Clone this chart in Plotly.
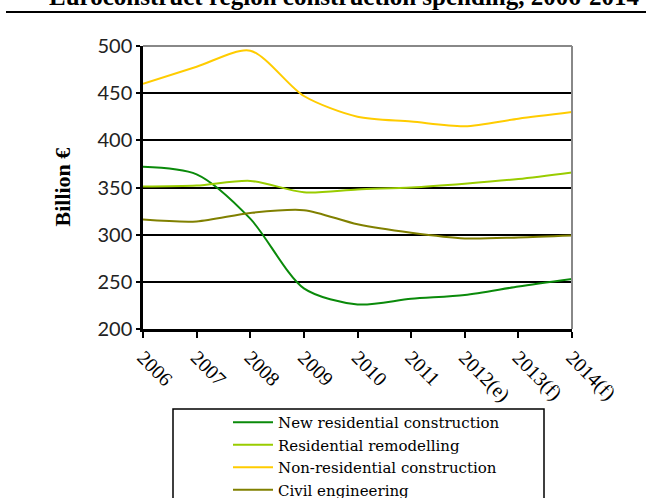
import plotly.graph_objects as go

years = ["2006", "2007", "2008", "2009", "2010", "2011", "2012(e)", "2013(f)", "2014(f)"]
new_residential = [372, 364, 317, 243, 226, 232, 236, 245, 253]
residential_remodelling = [351, 352, 357, 345, 348, 350, 354, 359, 366]
non_residential = [460, 478, 495, 447, 425, 420, 415, 423, 430]
civil_engineering = [316, 314, 323, 326, 311, 302, 296, 297, 299]

series = [
    ("New residential construction", new_residential, "#0a8a0a"),
    ("Residential remodelling", residential_remodelling, "#99cc00"),
    ("Non-residential construction", non_residential, "#ffcc00"),
    ("Civil engineering", civil_engineering, "#808000"),
]

fig = go.Figure()
for name, vals, col in series:
    fig.add_trace(go.Scatter(
        x=years, y=vals, name=name, mode="lines",
        line=dict(color=col, width=2, shape="spline", smoothing=0.8),
    ))

W, H = 646, 498
L, R, T, B = 143, 572, 46, 329
pw, ph = R - L, B - T

def px(x):
    return (x - L) / pw

def py(y):
    return (B - y) / ph

fig.update_layout(
    width=W, height=H,
    margin=dict(l=L, r=W - R, t=T, b=H - B, autoexpand=False),
    paper_bgcolor="white", plot_bgcolor="white",
    showlegend=True,
    legend=dict(
        x=px(228), y=py(406), xanchor="left", yanchor="top",
        bgcolor="rgba(0,0,0,0)", borderwidth=0,
        font=dict(family="DejaVu Serif", size=15, color="black"),
        tracegroupgap=0, itemwidth=40,
    ),
)

fig.update_xaxes(
    type="category", range=[0, 8], automargin=False,
    showline=True, linecolor="black", linewidth=3,
    ticks="outside", ticklen=6, tickwidth=2, tickcolor="black",
    tickangle=45,
    tickfont=dict(family="Liberation Serif", size=20, color="black"),
    showgrid=False, zeroline=False,
)
fig.update_yaxes(
    range=[200, 500], dtick=50, automargin=False,
    showline=True, linecolor="black", linewidth=2.5,
    ticks="outside", ticklen=4, tickwidth=1.5, tickcolor="black",
    tickfont=dict(family="Lato", size=20, color="#222222"),
    showgrid=True, gridcolor="black", gridwidth=1.5,
    zeroline=False,
)

shapes = [
    dict(type="line", xref="paper", yref="paper", x0=px(6), x1=px(646), y0=py(12), y1=py(12),
         line=dict(color="black", width=2)),
    dict(type="line", xref="paper", yref="paper", x0=0, x1=1, y0=1, y1=1,
         line=dict(color="#888888", width=2), layer="above"),
    dict(type="line", xref="paper", yref="paper", x0=1, x1=1, y0=0, y1=1,
         line=dict(color="#888888", width=2), layer="above"),
    dict(type="rect", xref="paper", yref="paper", x0=px(173), x1=px(544), y0=py(520), y1=py(409),
         line=dict(color="black", width=1.5)),
]
fig.update_layout(shapes=shapes)

fig.add_annotation(
    text="<b>Euroconstruct region construction spending, 2006-2014</b>",
    xref="paper", yref="paper", x=px(344), y=py(-4),
    xanchor="center", yanchor="middle", showarrow=False,
    font=dict(family="Liberation Serif", size=25, color="black"),
)

fig.add_annotation(
    text="<b>Billion €</b>", textangle=-90,
    xref="paper", yref="paper", x=px(62), y=0.5,
    xanchor="center", yanchor="middle", showarrow=False,
    font=dict(family="Liberation Serif", size=22, color="black"),
)

fig.write_html(
    "out.html",
    config={"displayModeBar": False},
    post_script="document.body.style.margin='0';document.body.style.overflow='hidden';",
)
